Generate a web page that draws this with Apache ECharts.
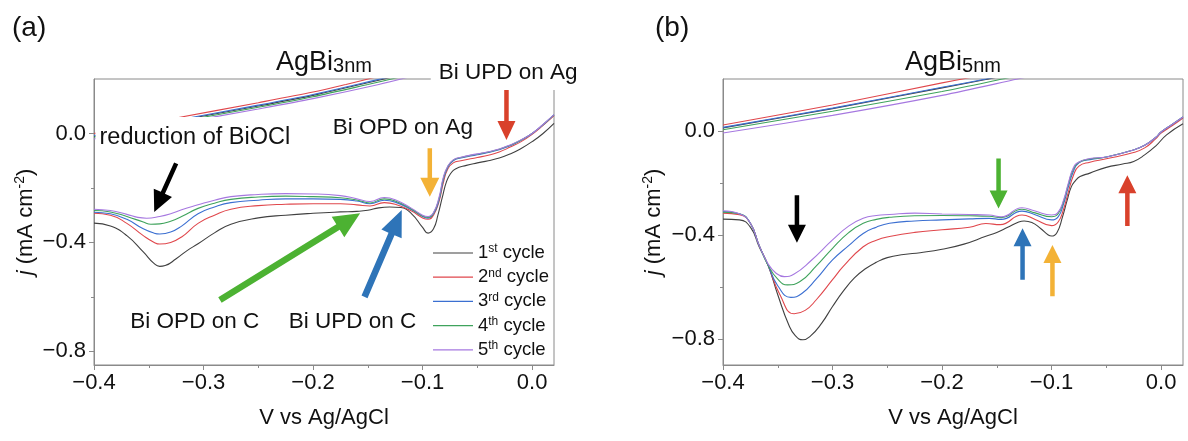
<!DOCTYPE html>
<html>
<head>
<meta charset="utf-8">
<script src="https://cdn.jsdelivr.net/npm/echarts@6/dist/echarts.min.js"></script>
<style>
  html, body { margin: 0; padding: 0; background: #fff; }
  #chart { width: 1188px; height: 441px; }
</style>
</head>
<body>
<div id="chart"></div>
<script>
// cycles and their colours
const cycles = ['1st cycle', '2nd cycle', '3rd cycle', '4th cycle', '5th cycle'];
const colors = ['#404040', '#e0474c', '#3b6fd1', '#3fa35c', '#a678e0'];

// tick values
const xTicks = [-0.4, -0.3, -0.2, -0.1, 0];
const xMinorTicks = [-0.35, -0.25, -0.15, -0.05];
const yTicks = [-0.8, -0.4, 0];
const yMinorTicks = [-0.6, -0.2];

// (a) AgBi 3nm, cathodic sweep [V, j]
const aLower1 = [[-0.4,-0.329],[-0.385,-0.34],[-0.37,-0.375],[-0.355,-0.435],[-0.345,-0.478],[-0.34,-0.488],[-0.335,-0.485],[-0.325,-0.46],[-0.315,-0.43],[-0.305,-0.405],[-0.29,-0.365],[-0.275,-0.333],[-0.25,-0.31],[-0.225,-0.3],[-0.2,-0.293],[-0.175,-0.288],[-0.16,-0.286],[-0.15,-0.282],[-0.14,-0.273],[-0.13,-0.27],[-0.12,-0.272],[-0.11,-0.295],[-0.1,-0.345],[-0.095,-0.366],[-0.09,-0.35],[-0.086,-0.3],[-0.082,-0.235],[-0.078,-0.175],[-0.074,-0.145],[-0.07,-0.13],[-0.06,-0.117],[-0.05,-0.108],[-0.04,-0.1],[-0.03,-0.09],[-0.02,-0.075],[-0.01,-0.055],[0,-0.03],[0.01,0],[0.02,0.037]];
const aLower2 = [[-0.4,-0.293],[-0.385,-0.3],[-0.37,-0.33],[-0.355,-0.375],[-0.345,-0.4],[-0.34,-0.406],[-0.33,-0.4],[-0.32,-0.38],[-0.305,-0.33],[-0.29,-0.3],[-0.275,-0.278],[-0.25,-0.265],[-0.225,-0.26],[-0.2,-0.258],[-0.175,-0.258],[-0.16,-0.262],[-0.148,-0.266],[-0.135,-0.254],[-0.125,-0.26],[-0.11,-0.285],[-0.1,-0.31],[-0.095,-0.315],[-0.09,-0.3],[-0.085,-0.25],[-0.081,-0.18],[-0.077,-0.13],[-0.072,-0.108],[-0.065,-0.1],[-0.05,-0.088],[-0.04,-0.08],[-0.03,-0.068],[-0.02,-0.05],[-0.01,-0.03],[0,-0.003],[0.01,0.03],[0.02,0.066]];
const aLower3 = [[-0.4,-0.289],[-0.385,-0.295],[-0.37,-0.315],[-0.355,-0.35],[-0.345,-0.366],[-0.34,-0.369],[-0.33,-0.362],[-0.32,-0.34],[-0.305,-0.295],[-0.29,-0.27],[-0.275,-0.254],[-0.25,-0.245],[-0.225,-0.24],[-0.2,-0.24],[-0.175,-0.242],[-0.16,-0.248],[-0.148,-0.258],[-0.135,-0.245],[-0.125,-0.252],[-0.11,-0.28],[-0.1,-0.305],[-0.095,-0.311],[-0.09,-0.295],[-0.085,-0.245],[-0.081,-0.17],[-0.077,-0.125],[-0.072,-0.1],[-0.065,-0.09],[-0.05,-0.078],[-0.04,-0.07],[-0.03,-0.06],[-0.02,-0.045],[-0.01,-0.025],[0,0],[0.01,0.032],[0.02,0.068]];
const aLower4 = [[-0.4,-0.283],[-0.385,-0.288],[-0.37,-0.305],[-0.355,-0.325],[-0.348,-0.333],[-0.34,-0.332],[-0.33,-0.322],[-0.32,-0.305],[-0.305,-0.275],[-0.29,-0.256],[-0.275,-0.242],[-0.25,-0.233],[-0.225,-0.23],[-0.2,-0.232],[-0.175,-0.236],[-0.16,-0.244],[-0.148,-0.255],[-0.135,-0.24],[-0.125,-0.248],[-0.11,-0.278],[-0.1,-0.303],[-0.095,-0.308],[-0.09,-0.292],[-0.085,-0.24],[-0.081,-0.165],[-0.077,-0.122],[-0.072,-0.098],[-0.065,-0.088],[-0.05,-0.076],[-0.04,-0.068],[-0.03,-0.058],[-0.02,-0.043],[-0.01,-0.024],[0,0],[0.01,0.032],[0.02,0.068]];
const aLower5 = [[-0.4,-0.278],[-0.385,-0.283],[-0.37,-0.297],[-0.36,-0.308],[-0.352,-0.311],[-0.34,-0.305],[-0.33,-0.295],[-0.32,-0.28],[-0.305,-0.262],[-0.29,-0.245],[-0.275,-0.232],[-0.25,-0.224],[-0.225,-0.221],[-0.2,-0.222],[-0.175,-0.228],[-0.16,-0.24],[-0.148,-0.25],[-0.135,-0.235],[-0.125,-0.243],[-0.11,-0.275],[-0.1,-0.3],[-0.095,-0.305],[-0.09,-0.29],[-0.085,-0.235],[-0.081,-0.16],[-0.077,-0.12],[-0.072,-0.097],[-0.065,-0.087],[-0.05,-0.075],[-0.04,-0.067],[-0.03,-0.057],[-0.02,-0.042],[-0.01,-0.023],[0,0],[0.01,0.033],[0.02,0.069]];
// (a) anodic sweep
const aUpper1 = [[-0.4,-0.011],[-0.33,0.042],[-0.25,0.101],[-0.2,0.14],[-0.16,0.177],[-0.13,0.205]];
const aUpper2 = [[-0.4,0],[-0.33,0.053],[-0.25,0.113],[-0.2,0.152],[-0.17,0.18],[-0.14,0.21]];
const aUpper3 = [[-0.4,-0.008],[-0.33,0.045],[-0.25,0.104],[-0.2,0.143],[-0.16,0.18],[-0.13,0.208]];
const aUpper4 = [[-0.4,-0.014],[-0.33,0.038],[-0.25,0.096],[-0.2,0.135],[-0.15,0.18],[-0.12,0.208]];
const aUpper5 = [[-0.4,-0.02],[-0.33,0.032],[-0.25,0.09],[-0.2,0.128],[-0.14,0.18],[-0.11,0.21]];

// (b) AgBi 5nm, cathodic sweep
const bLower1 = [[-0.4,-0.339],[-0.385,-0.342],[-0.375,-0.37],[-0.367,-0.445],[-0.359,-0.515],[-0.35,-0.63],[-0.34,-0.745],[-0.334,-0.787],[-0.327,-0.803],[-0.32,-0.788],[-0.31,-0.74],[-0.3,-0.675],[-0.29,-0.615],[-0.28,-0.565],[-0.27,-0.53],[-0.26,-0.505],[-0.25,-0.487],[-0.235,-0.475],[-0.22,-0.468],[-0.2,-0.455],[-0.18,-0.435],[-0.16,-0.405],[-0.15,-0.39],[-0.14,-0.37],[-0.13,-0.35],[-0.125,-0.346],[-0.118,-0.352],[-0.11,-0.375],[-0.103,-0.4],[-0.1,-0.404],[-0.095,-0.39],[-0.09,-0.33],[-0.086,-0.27],[-0.082,-0.215],[-0.078,-0.19],[-0.074,-0.175],[-0.065,-0.162],[-0.05,-0.14],[-0.035,-0.127],[-0.025,-0.117],[-0.015,-0.092],[-0.005,-0.058],[0.005,-0.015],[0.02,0.028]];
const bLower2 = [[-0.4,-0.316],[-0.385,-0.322],[-0.375,-0.355],[-0.367,-0.44],[-0.359,-0.515],[-0.348,-0.63],[-0.335,-0.703],[-0.325,-0.69],[-0.315,-0.65],[-0.3,-0.572],[-0.29,-0.52],[-0.272,-0.445],[-0.26,-0.42],[-0.248,-0.406],[-0.225,-0.39],[-0.2,-0.38],[-0.175,-0.37],[-0.16,-0.356],[-0.147,-0.36],[-0.127,-0.323],[-0.115,-0.34],[-0.1,-0.364],[-0.094,-0.35],[-0.089,-0.3],[-0.085,-0.24],[-0.08,-0.17],[-0.075,-0.135],[-0.065,-0.12],[-0.05,-0.107],[-0.026,-0.084],[-0.015,-0.065],[-0.005,-0.03],[0,-0.008],[0.01,0.02],[0.02,0.05]];
const bLower3 = [[-0.4,-0.31],[-0.385,-0.318],[-0.375,-0.355],[-0.367,-0.44],[-0.359,-0.515],[-0.35,-0.595],[-0.338,-0.64],[-0.328,-0.625],[-0.315,-0.57],[-0.3,-0.496],[-0.285,-0.44],[-0.272,-0.394],[-0.26,-0.37],[-0.248,-0.355],[-0.225,-0.346],[-0.2,-0.342],[-0.175,-0.338],[-0.157,-0.336],[-0.146,-0.34],[-0.127,-0.308],[-0.115,-0.322],[-0.1,-0.342],[-0.094,-0.33],[-0.089,-0.28],[-0.085,-0.22],[-0.08,-0.155],[-0.075,-0.122],[-0.065,-0.11],[-0.05,-0.1],[-0.026,-0.074],[-0.015,-0.055],[-0.005,-0.025],[0,-0.004],[0.01,0.025],[0.02,0.054]];
const bLower4 = [[-0.4,-0.312],[-0.385,-0.318],[-0.375,-0.355],[-0.367,-0.44],[-0.359,-0.515],[-0.35,-0.57],[-0.341,-0.592],[-0.33,-0.58],[-0.315,-0.52],[-0.3,-0.451],[-0.285,-0.39],[-0.272,-0.355],[-0.26,-0.34],[-0.248,-0.332],[-0.225,-0.326],[-0.2,-0.325],[-0.175,-0.326],[-0.157,-0.328],[-0.146,-0.333],[-0.127,-0.301],[-0.115,-0.315],[-0.1,-0.33],[-0.094,-0.318],[-0.089,-0.27],[-0.085,-0.21],[-0.08,-0.145],[-0.075,-0.12],[-0.065,-0.108],[-0.05,-0.1],[-0.026,-0.074],[-0.015,-0.055],[-0.005,-0.025],[0,-0.004],[0.01,0.025],[0.02,0.054]];
const bLower5 = [[-0.4,-0.307],[-0.385,-0.318],[-0.375,-0.355],[-0.367,-0.44],[-0.359,-0.51],[-0.352,-0.545],[-0.344,-0.56],[-0.335,-0.55],[-0.32,-0.5],[-0.3,-0.419],[-0.285,-0.365],[-0.272,-0.336],[-0.26,-0.325],[-0.248,-0.321],[-0.225,-0.316],[-0.2,-0.319],[-0.175,-0.321],[-0.157,-0.323],[-0.146,-0.33],[-0.127,-0.295],[-0.115,-0.308],[-0.1,-0.323],[-0.094,-0.312],[-0.089,-0.265],[-0.085,-0.205],[-0.08,-0.14],[-0.075,-0.119],[-0.065,-0.106],[-0.05,-0.1],[-0.026,-0.074],[-0.015,-0.055],[-0.005,-0.025],[0,-0.004],[0.01,0.025],[0.02,0.054]];
// (b) anodic sweep
const bUpper1 = [[-0.4,0.012],[-0.3,0.086],[-0.2,0.166],[-0.16,0.198],[-0.14,0.216]];
const bUpper2 = [[-0.4,0.023],[-0.3,0.1],[-0.2,0.185],[-0.175,0.205],[-0.16,0.218]];
const bUpper3 = [[-0.4,0.014],[-0.3,0.088],[-0.2,0.168],[-0.16,0.2],[-0.14,0.218]];
const bUpper4 = [[-0.4,0.005],[-0.3,0.076],[-0.2,0.152],[-0.145,0.2],[-0.13,0.214]];
const bUpper5 = [[-0.4,-0.008],[-0.3,0.06],[-0.2,0.137],[-0.131,0.2],[-0.115,0.215]];

// annotation arrows, [V, j] tail -> tip
const arrows = [
  { grid: 0, from: [-0.325, -0.11], to: [-0.345, -0.288], color: '#000000', w: 4.5, hw: 20, hl: 21 },
  { grid: 0, from: [-0.285, -0.611], to: [-0.157, -0.293], color: '#4cb232', w: 6.5, hw: 24, hl: 26 },
  { grid: 0, from: [-0.153, -0.6], to: [-0.119, -0.281], color: '#2e74b8', w: 6.5, hw: 22, hl: 26 },
  { grid: 0, from: [-0.0934, -0.054], to: [-0.0934, -0.232], color: '#f3b236', w: 4.5, hw: 19, hl: 19 },
  { grid: 0, from: [-0.0234, 0.162], to: [-0.0234, -0.024], color: '#d9412b', w: 4.5, hw: 18, hl: 19 },
  { grid: 1, from: [-0.3325, -0.247], to: [-0.3325, -0.43], color: '#000000', w: 4.5, hw: 18, hl: 18 },
  { grid: 1, from: [-0.1484, -0.106], to: [-0.1484, -0.298], color: '#4cb232', w: 4.5, hw: 18, hl: 18 },
  { grid: 1, from: [-0.1265, -0.572], to: [-0.1265, -0.374], color: '#2e74b8', w: 4.5, hw: 18, hl: 18 },
  { grid: 1, from: [-0.0992, -0.636], to: [-0.0992, -0.438], color: '#f3b236', w: 4.5, hw: 18, hl: 18 },
  { grid: 1, from: [-0.0308, -0.365], to: [-0.0308, -0.17], color: '#d9412b', w: 4.5, hw: 18, hl: 18 },
];

// annotation texts, centred at [V, j]
const notes = [
  { grid: 0, at: [-0.307, -0.013], text: 'reduction of BiOCl', size: 23.5, box: [7, 6, 9, 4] },
  { grid: 0, at: [-0.118, 0.02], text: 'Bi OPD on Ag', size: 22.5 },
  { grid: 0, at: [-0.0214, 0.222], text: 'Bi UPD on Ag', size: 22.5, box: [6, 9, 5, 8] },
  { grid: 0, at: [-0.308, -0.691], text: 'Bi OPD on C', size: 22.5 },
  { grid: 0, at: [-0.164, -0.691], text: 'Bi UPD on C', size: 22.5 },
];

const font = '"Liberation Sans", Arial, Helvetica, sans-serif';
const ink = '#111';
const frame = '#8a8a8a';

function fmt(v) {
  if (Math.abs(v) < 1e-9) return '0.0';
  return (v < 0 ? '\u2212' : '') + Math.abs(v).toFixed(1);
}

function mainX(gi) {
  return {
    type: 'value', gridIndex: gi, min: -0.4, max: 0.02,
    name: 'V vs Ag/AgCl', nameLocation: 'middle', nameGap: 42,
    nameTextStyle: { fontFamily: font, fontSize: 22, color: ink },
    axisLine: { show: true, onZero: false, lineStyle: { color: frame, width: 1 } },
    axisTick: { show: true, length: 5, customValues: xTicks, lineStyle: { color: frame } },
    axisLabel: { customValues: xTicks, formatter: fmt, margin: 7, fontFamily: font, fontSize: 22, color: ink },
    splitLine: { show: false }
  };
}
function minorX(gi) {
  return {
    type: 'value', gridIndex: gi, min: -0.4, max: 0.02, position: 'bottom',
    axisLine: { show: false, onZero: false },
    axisTick: { show: true, length: 3, customValues: xMinorTicks, lineStyle: { color: frame } },
    axisLabel: { show: false }, splitLine: { show: false }
  };
}
function mainY(gi, min, gap) {
  return {
    type: 'value', gridIndex: gi, min: min, max: 0.2,
    name: '{i|j} (mA cm{s|-2})', nameLocation: 'middle', nameGap: gap, nameRotate: 90,
    nameTextStyle: {
      fontFamily: font, fontSize: 22, color: ink, lineHeight: 26,
      rich: {
        i: { fontFamily: font, fontSize: 22, fontStyle: 'italic', color: ink, lineHeight: 26 },
        s: { fontFamily: font, fontSize: 14, color: ink, lineHeight: 12, verticalAlign: 'top' }
      }
    },
    axisLine: { show: true, onZero: false, lineStyle: { color: frame, width: 1 } },
    axisTick: { show: true, length: 5, customValues: yTicks, lineStyle: { color: frame } },
    axisLabel: { customValues: yTicks, formatter: fmt, margin: 8, fontFamily: font, fontSize: 22, color: ink },
    splitLine: { show: false }
  };
}
function minorY(gi, min) {
  return {
    type: 'value', gridIndex: gi, min: min, max: 0.2, position: 'left',
    axisLine: { show: false, onZero: false },
    axisTick: { show: true, length: 3, customValues: yMinorTicks, lineStyle: { color: frame } },
    axisLabel: { show: false }, splitLine: { show: false }
  };
}

function cvSeries(gi, lower, upper) {
  const out = [];
  cycles.forEach((name, i) => {
    [lower[i], upper[i]].forEach((d, k) => {
      out.push({
        name: name, type: 'line', xAxisIndex: gi * 2, yAxisIndex: gi * 2,
        data: d, smooth: k === 0 ? 0.5 : 0.3, symbol: 'none', showSymbol: false,
        lineStyle: { color: colors[i], width: 1.1 }, itemStyle: { color: colors[i] },
        z: 2 + i, silent: true, animation: false
      });
    });
  });
  return out;
}

const chart = echarts.init(document.getElementById('chart'));
chart.setOption({
  backgroundColor: '#fff',
  animation: false,
  grid: [
    { left: 94, top: 79, width: 460, height: 286, show: true, borderColor: frame, borderWidth: 1 },
    { left: 723, top: 79, width: 460, height: 286, show: true, borderColor: frame, borderWidth: 1 }
  ],
  xAxis: [mainX(0), minorX(0), mainX(1), minorX(1)],
  yAxis: [mainY(0, -0.85, 41), minorY(0, -0.85), mainY(1, -0.9, 56), minorY(1, -0.9)],
  legend: {
    data: cycles, orient: 'vertical', left: 433, top: 243, padding: 0,
    icon: 'rect', itemWidth: 40, itemHeight: 1.2, itemGap: 4.2, selectedMode: false,
    formatter: name => name.replace(/^(\d)(\w\w) /, '{n|$1}{s|$2} '),
    textStyle: {
      fontFamily: font, fontSize: 18.5, color: ink, lineHeight: 20, padding: [0, 0, 0, 0],
      rich: {
        n: { fontFamily: font, fontSize: 18.5, color: ink, lineHeight: 20 },
        s: { fontFamily: font, fontSize: 12, color: ink, lineHeight: 12, verticalAlign: 'top' }
      }
    }
  },
  series: cvSeries(0, [aLower1, aLower2, aLower3, aLower4, aLower5], [aUpper1, aUpper2, aUpper3, aUpper4, aUpper5])
    .concat(cvSeries(1, [bLower1, bLower2, bLower3, bLower4, bLower5], [bUpper1, bUpper2, bUpper3, bUpper4, bUpper5]))
});

// annotations placed through the axes
const toPx = (gi, p) => chart.convertToPixel({ xAxisIndex: gi * 2, yAxisIndex: gi * 2 }, p);
const graphics = [];

arrows.forEach(a => {
  const p0 = toPx(a.grid, a.from), p1 = toPx(a.grid, a.to);
  const dx = p1[0] - p0[0], dy = p1[1] - p0[1];
  const len = Math.hypot(dx, dy);
  const ux = dx / len, uy = dy / len, nx = -uy, ny = ux;
  const bx = p1[0] - ux * a.hl, by = p1[1] - uy * a.hl;
  const s = a.w / 2, h = a.hw / 2;
  graphics.push({
    type: 'polygon', z: 20, silent: true,
    shape: { points: [
      [p0[0] + nx * s, p0[1] + ny * s], [bx + nx * s, by + ny * s], [bx + nx * h, by + ny * h],
      [p1[0], p1[1]],
      [bx - nx * h, by - ny * h], [bx - nx * s, by - ny * s], [p0[0] - nx * s, p0[1] - ny * s]
    ] },
    style: { fill: a.color }
  });
});

notes.forEach(n => {
  const p = toPx(n.grid, n.at);
  graphics.push({
    type: 'text', z: 30, silent: true, x: p[0], y: p[1],
    style: {
      text: n.text, fontFamily: font, fontSize: n.size, fill: ink,
      align: 'center', verticalAlign: 'middle',
      backgroundColor: n.box ? '#fff' : null, padding: n.box || 0
    }
  });
});

// titles and panel letters
[[324, '3nm'], [953, '5nm']].forEach(t => {
  graphics.push({
    type: 'text', z: 30, silent: true, x: t[0], y: 61,
    style: {
      text: '{m|AgBi}{s|' + t[1] + '}', align: 'center', verticalAlign: 'middle',
      rich: {
        m: { fontFamily: font, fontSize: 27, fill: ink, lineHeight: 30, verticalAlign: 'bottom' },
        s: { fontFamily: font, fontSize: 20, fill: ink, lineHeight: 6, verticalAlign: 'bottom' }
      }
    }
  });
});
[[12, '(a)'], [655, '(b)']].forEach(t => {
  graphics.push({
    type: 'text', z: 30, silent: true, x: t[0], y: 28,
    style: { text: t[1], fontFamily: font, fontSize: 28, fill: ink, align: 'left', verticalAlign: 'middle' }
  });
});

chart.setOption({ graphic: graphics });
</script>
</body>
</html>
